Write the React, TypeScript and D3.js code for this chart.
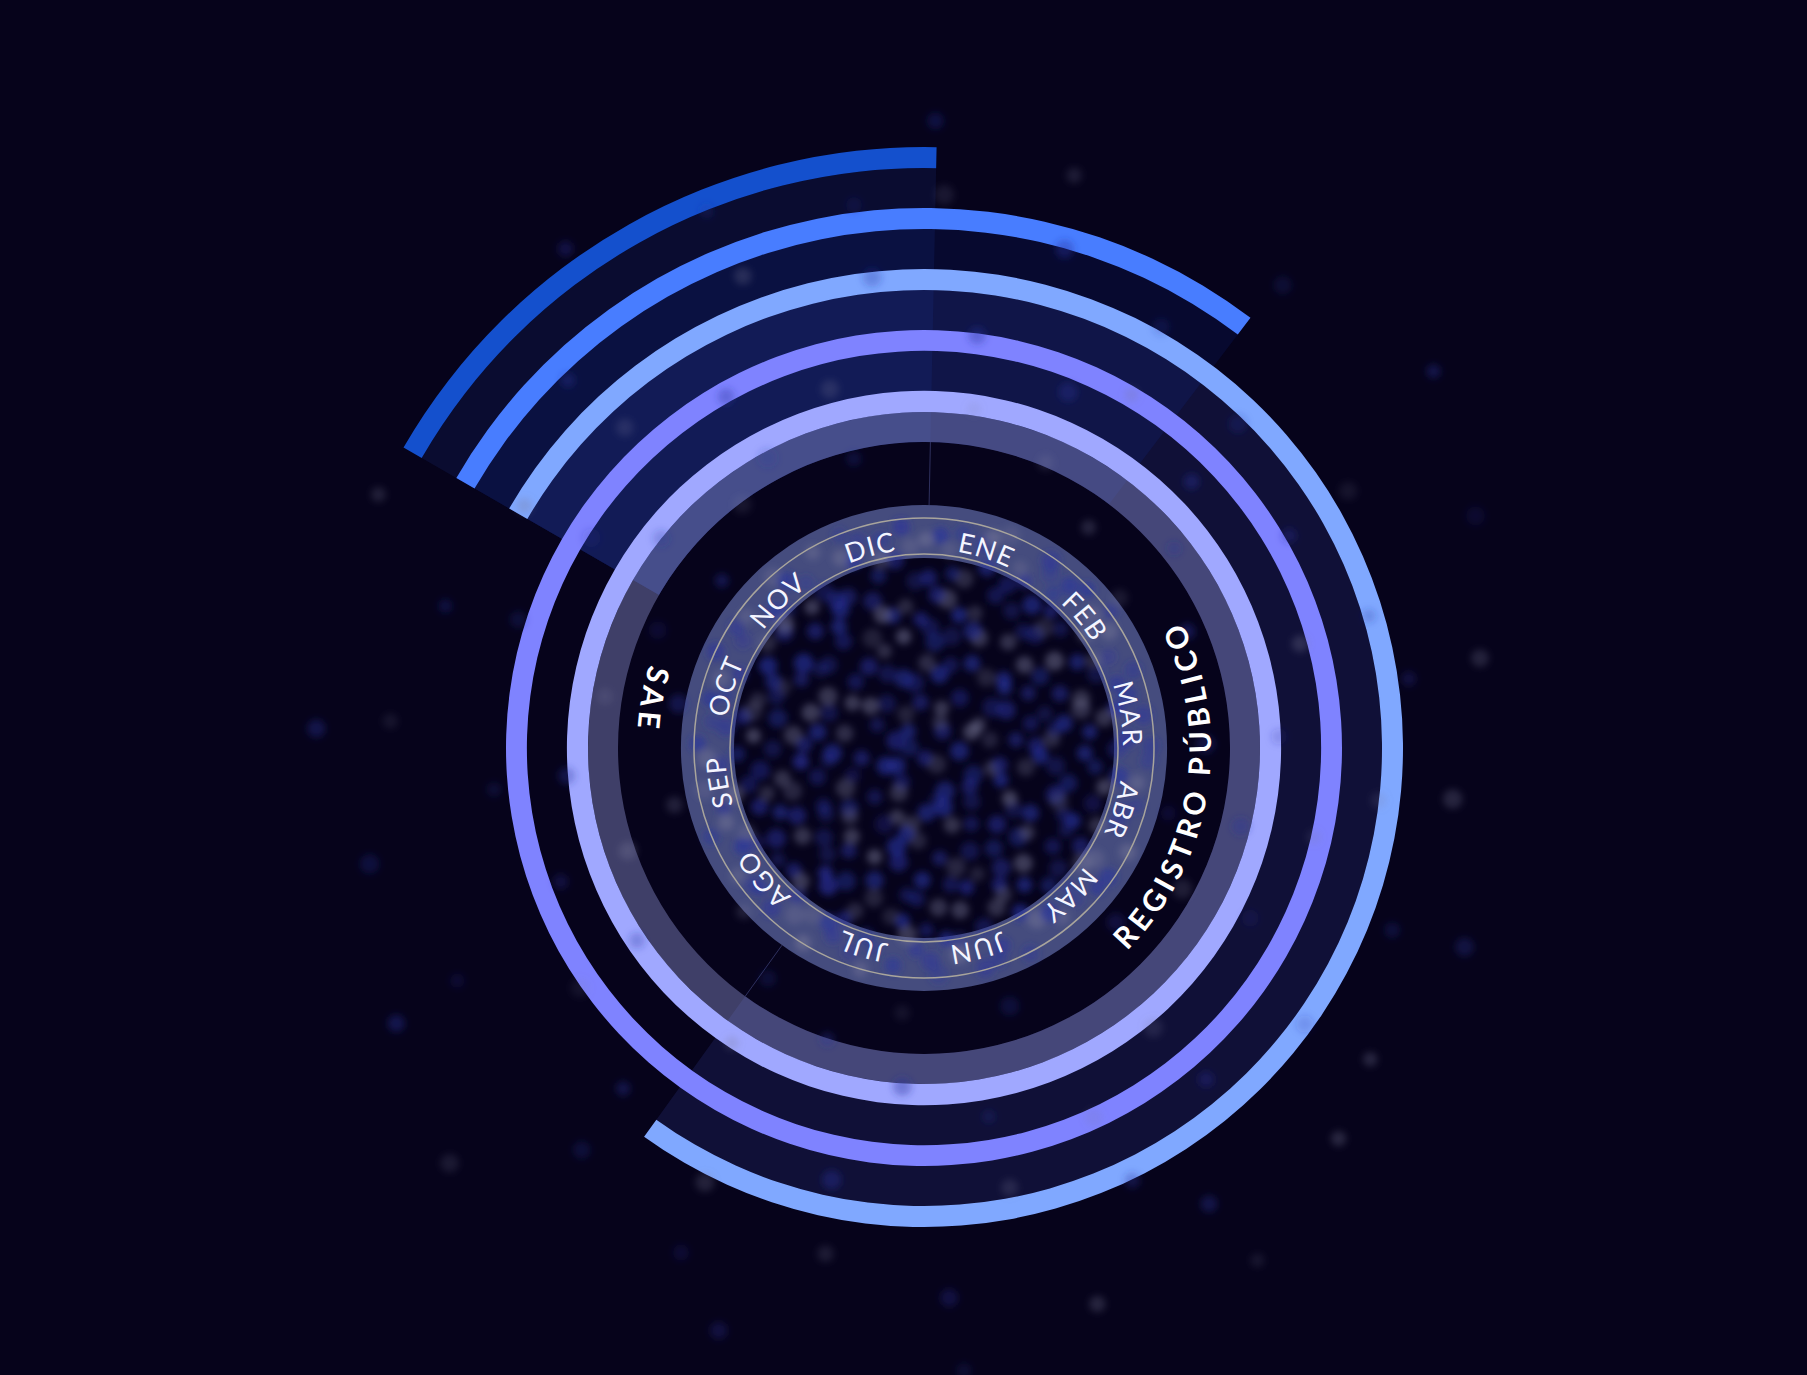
import * as d3 from "d3";
import { useEffect } from "react";

const W = 1807;
const H = 1375;
const CX = 924;
const CY = 748;
const FONDO = "#06031b";

// series exteriores, de adentro hacia afuera
const series = ["serie1", "serie2", "serie3", "serie4", "serie5"];
const colorSerie = ["#a0a8ff", "#7f83ff", "#80a8ff", "#487dff", "#1450cd"];
const avanceSerie = [100, 100, 76.6, 27, 17]; // % de vuelta, desde -60°
const colorRelleno = ["#a0a8ff", "#7f83ff", "#3c46aa", "#143cc8", "#1e3ca0"];
const opacidadRelleno = [0, 0, 0.2, 0.12, 0.16];

// anillo de meses
const meses = ["ENE", "FEB", "MAR", "ABR", "MAY", "JUN", "JUL", "AGO", "SEP", "OCT", "NOV", "DIC"];
const gradosMes = [35, 31.5, 28, 26, 29.5, 30, 34.5, 32.5, 27, 26.5, 29.5, 30];

// etiquetas de sección
const etiquetas = ["SAE", "REGISTRO PÚBLICO"];
const anguloEtiqueta = [280, 99];

// puntos (registros)
const registrosCentro = 330;
const registrosDispersos = 100;

const GROSOR = 21;
const R_GRIS = [306, 336];
const R_MES = [190, 243];
const R_LINEAS = [194, 230];

const polar = (deg: number, r: number) => {
  const a = (deg * Math.PI) / 180;
  return [r * Math.sin(a), -r * Math.cos(a)];
};

// secuencia de Halton para repartir los puntos
const halton = (n: number, b: number) => {
  let f = 1;
  let r = 0;
  let i = n;
  while (i > 0) {
    f /= b;
    r += f * (i % b);
    i = Math.floor(i / b);
  }
  return r;
};

export default function App() {
  useEffect(() => {
    document.body.style.margin = "0";
    document.body.style.background = FONDO;
  }, []);

  const ang = d3.scaleLinear().domain([0, 100]).range([-Math.PI / 3, (5 * Math.PI) / 3]);
  const rExt = d3.scaleLinear().domain([0, series.length - 1]).range([357, 601]);
  const arc = d3.arc<any>();

  // acumulado de meses
  const finMes = d3.cumsum(gradosMes);
  const iniMes = finMes.map((f, i) => f - gradosMes[i]);

  const rTxtMes = 199;
  const circMes = `M 0 ${-rTxtMes} A ${rTxtMes} ${rTxtMes} 0 1 1 0 ${rTxtMes} A ${rTxtMes} ${rTxtMes} 0 1 1 0 ${-rTxtMes}`;

  const rEtq = 287;
  const pathEtq = anguloEtiqueta.map((c) => {
    const [x1, y1] = polar(c + 85, rEtq);
    const [x2, y2] = polar(c - 85, rEtq);
    return `M ${x1} ${y1} A ${rEtq} ${rEtq} 0 0 0 ${x2} ${y2}`;
  });

  const rCentro = d3.scaleSqrt().domain([0, 1]).range([0, 232]);
  const rDisp = d3.scaleLinear().domain([0, 1]).range([240, 640]);
  const puntos = [
    ...d3.range(registrosCentro).map((i) => ({
      r: rCentro(halton(i + 1, 2)),
      t: 2 * Math.PI * halton(i + 1, 3),
      tipo: halton(i + 1, 5) > 0.68 ? 1 : 0,
      op: 0.3 + halton(i + 1, 7) * 0.35,
      rad: 7.5 + halton(i + 1, 11) * 2.5,
    })),
    ...d3.range(registrosDispersos).map((j) => ({
      r: rDisp(halton(j + 1, 5)),
      t: 2 * Math.PI * halton(j + 1, 7),
      tipo: halton(j + 1, 3) > 0.6 ? 1 : 0,
      op: 0.15 + halton(j + 1, 2) * 0.25,
      rad: 7 + halton(j + 1, 11) * 3,
    })),
  ];

  return (
    <svg width={W} height={H} style={{ display: "block", background: FONDO }}>
      <defs>
        <filter id="blur" x="-50%" y="-50%" width="200%" height="200%">
          <feGaussianBlur stdDeviation="3.5" />
        </filter>
        <path id="mesPath" d={circMes} transform={`translate(${CX},${CY})`} />
      </defs>
      <rect width={W} height={H} fill={FONDO} />
      <g transform={`translate(${CX},${CY})`}>
        {/* rellenos de cada serie */}
        {series.map((s, i) =>
          opacidadRelleno[i] > 0 ? (
            <path
              key={"f" + s}
              d={arc({ innerRadius: R_GRIS[0], outerRadius: rExt(i) - GROSOR, startAngle: ang(0), endAngle: ang(avanceSerie[i]) })!}
              fill={colorRelleno[i]}
              fillOpacity={opacidadRelleno[i]}
            />
          ) : null
        )}
        {/* arcos de cada serie */}
        {series.map((s, i) => (
          <path
            key={"a" + s}
            d={arc({ innerRadius: rExt(i) - GROSOR, outerRadius: rExt(i), startAngle: ang(0), endAngle: ang(avanceSerie[i]) })!}
            fill={colorSerie[i]}
          />
        ))}
        {/* banda gris */}
        <path
          d={arc({ innerRadius: R_GRIS[0], outerRadius: R_GRIS[1], startAngle: 0, endAngle: 2 * Math.PI })!}
          fill="rgb(150,156,221)"
          fillOpacity={0.4}
        />
        {/* marcas de fin */}
        {series.map((s, i) => {
          if (avanceSerie[i] >= 100 || opacidadRelleno[i] === 0 || i === 3) return null;
          const a = ang(avanceSerie[i]);
          return (
            <line
              key={"m" + s}
              x1={R_MES[1] * Math.sin(a)}
              y1={-R_MES[1] * Math.cos(a)}
              x2={R_GRIS[0] * Math.sin(a)}
              y2={-R_GRIS[0] * Math.cos(a)}
              stroke="#4a4f8a"
              strokeOpacity={0.6}
              strokeWidth={1}
            />
          );
        })}
        {/* anillo de meses */}
        <path
          d={arc({ innerRadius: R_MES[0], outerRadius: R_MES[1], startAngle: 0, endAngle: 2 * Math.PI })!}
          fill="#454c7e"
        />
      </g>
      {/* puntos */}
      <g transform={`translate(${CX},${CY})`} filter="url(#blur)">
        {puntos.map((p, k) => (
          <circle
            key={k}
            cx={p.r * Math.sin(p.t)}
            cy={-p.r * Math.cos(p.t)}
            r={p.rad}
            fill={p.tipo === 1 ? "#7c7c9c" : "#28329e"}
            fillOpacity={p.tipo === 1 ? p.op * 0.75 : p.op}
          />
        ))}
      </g>
      <g transform={`translate(${CX},${CY})`}>
        {R_LINEAS.map((r) => (
          <circle key={r} r={r} fill="none" stroke="#a9a59c" strokeWidth={1.5} />
        ))}
        {iniMes.map((g, i) => {
          const [x1, y1] = polar(g, R_LINEAS[0]);
          const [x2, y2] = polar(g, R_LINEAS[1]);
          return <line key={meses[i]} x1={x1} y1={y1} x2={x2} y2={y2} stroke="#a9a59c" strokeWidth={1.5} />;
        })}
      </g>
      {/* texto de meses */}
      <g fontFamily="Lato, 'Open Sans', sans-serif" fontSize={27} fill="#f4f5ff" letterSpacing={1.2}>
        {meses.map((m, i) => (
          <text key={m} textAnchor="middle">
            <textPath href="#mesPath" startOffset={`${((iniMes[i] + gradosMes[i] / 2) / 360) * 100}%`}>
              {m}
            </textPath>
          </text>
        ))}
      </g>
      <g transform={`translate(${CX},${CY})`} fontFamily="Lato, 'Open Sans', sans-serif" fontSize={30} fontWeight={700} fill="#ffffff" letterSpacing={5}>
        {etiquetas.map((e, i) => (
          <g key={e}>
            <path id={"etq" + i} d={pathEtq[i]} fill="none" />
            <text textAnchor="middle">
              <textPath href={"#etq" + i} startOffset="50%">
                {e}
              </textPath>
            </text>
          </g>
        ))}
      </g>
    </svg>
  );
}
